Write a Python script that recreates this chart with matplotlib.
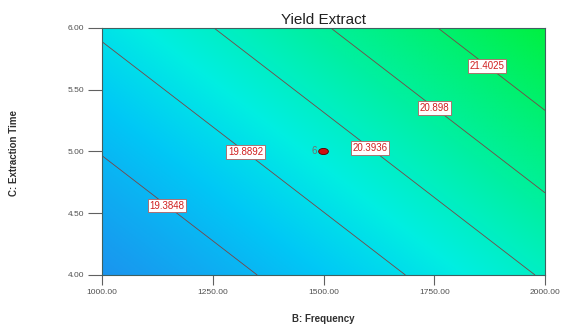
import numpy as np
import matplotlib
matplotlib.use("Agg")
import matplotlib.pyplot as plt
from matplotlib.colors import LinearSegmentedColormap
from matplotlib.patches import Ellipse

plt.rcParams['font.family'] = ['Liberation Sans', 'DejaVu Sans']

# factor ranges (actual units)
b_range = [1000.0, 2000.0]
c_range = [4.0, 6.0]
x_ticks = [1000, 1250, 1500, 1750, 2000]
y_ticks = [4.0, 4.5, 5.0, 5.5, 6.0]

# quadratic model in coded units: intercept, B, C, BC, B^2, C^2
coef = [20.188, 0.872, 0.632, 0.124, 0.086, 0.045]

levels = [19.3848, 19.8892, 20.3936, 20.898, 21.4025]
label_pos = [(1142, 4.54), (1325, 5.0), (1605, 5.03), (1752, 5.36), (1876, 5.725)]
center_pt = (1500, 5.0)
center_runs = "6"

# colour ramp blue -> cyan -> green
cmap_vals = [18.9, 19.6, 20.1, 20.8, 21.95]
cmap_cols = ["#1C92EE", "#00C8F6", "#00EEE2", "#00F0A0", "#00F040"]

B = np.linspace(b_range[0], b_range[1], 300)
C = np.linspace(c_range[0], c_range[1], 300)
BB, CC = np.meshgrid(B, C)
u = (BB - 1500) / 500
v = (CC - 5.0) / 1.0
Y = coef[0] + coef[1]*u + coef[2]*v + coef[3]*u*v + coef[4]*u**2 + coef[5]*v**2

lo, hi = cmap_vals[0], cmap_vals[-1]
nodes = [((val - lo)/(hi - lo), col) for val, col in zip(cmap_vals, cmap_cols)]
cmap = LinearSegmentedColormap.from_list("de", nodes)

fig = plt.figure(figsize=(5.62, 3.32), dpi=100)
ax = fig.add_axes([0.1815, 0.1717, 0.7883, 0.744])

ax.imshow(Y, extent=[b_range[0], b_range[1], c_range[0], c_range[1]], origin="lower",
          aspect="auto", cmap=cmap, vmin=lo, vmax=hi, interpolation="bilinear")
cs = ax.contour(BB, CC, Y, levels=levels, colors="#7A4545", linewidths=0.6)
fmt = {lv: str(lv) for lv in levels}
ax.clabel(cs, levels, fmt=fmt, inline=False, manual=label_pos, fontsize=7, colors="#D02020")
for t in cs.labelTexts:
    t.set_rotation(0)
    t.set_bbox(dict(facecolor="white", edgecolor="#B06060", linewidth=0.6, pad=1.3))

ax.add_patch(Ellipse(center_pt, 22, 0.05, facecolor="#D01010", edgecolor="#500000", lw=0.6, zorder=5))
ax.text(center_pt[0] - 22, center_pt[1], center_runs, fontsize=7, color="#707070",
        ha="center", va="center")

ax.set_xlim(b_range)
ax.set_ylim(c_range)
ax.set_xticks(x_ticks)
ax.set_yticks(y_ticks)
ax.set_xticklabels(["%.2f" % t for t in x_ticks])
ax.set_yticklabels(["%.2f" % t for t in y_ticks])
ax.tick_params(direction="out", length=7, width=0.8, color="#606060", labelsize=6,
               labelcolor="#505050", pad=3)
ax.tick_params(axis="y", length=10)
for s in ax.spines.values():
    s.set_color("#406060")
    s.set_linewidth(0.8)

ax.set_title("Yield Extract", fontsize=11, color="#202020", pad=3)
fig.text(0.575, 0.03, "B: Frequency", fontsize=7, color="#303030", ha="center", weight="bold")
fig.text(0.025, 0.54, "C: Extraction Time", fontsize=7, color="#303030", ha="center",
         va="center", rotation=90, weight="bold")

fig.savefig("out.png", dpi=100)
